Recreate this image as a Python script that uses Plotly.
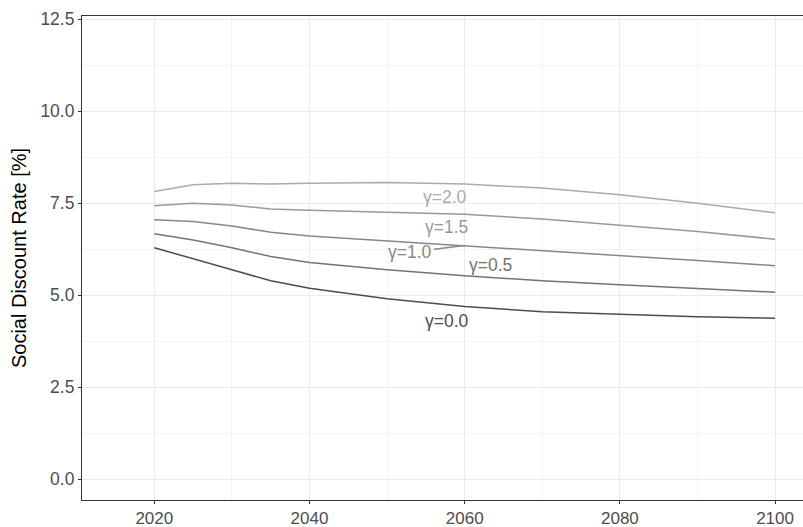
import plotly.graph_objects as go

# Social discount rate paths for different elasticities of marginal utility
years = [2020, 2025, 2030, 2035, 2040, 2050, 2060, 2070, 2080, 2090, 2100]

rate_g00 = [6.29, 5.98, 5.69, 5.39, 5.19, 4.90, 4.69, 4.55, 4.48, 4.41, 4.37]
rate_g05 = [6.67, 6.50, 6.29, 6.05, 5.89, 5.69, 5.53, 5.39, 5.28, 5.19, 5.08]
rate_g10 = [7.05, 7.00, 6.88, 6.71, 6.61, 6.48, 6.35, 6.20, 6.07, 5.94, 5.80]
rate_g15 = [7.43, 7.50, 7.45, 7.34, 7.31, 7.26, 7.20, 7.07, 6.91, 6.73, 6.52]
rate_g20 = [7.82, 8.00, 8.04, 8.02, 8.04, 8.06, 8.02, 7.91, 7.73, 7.50, 7.24]

series_names = ["γ=0.0", "γ=0.5", "γ=1.0", "γ=1.5", "γ=2.0"]
series_values = [rate_g00, rate_g05, rate_g10, rate_g15, rate_g20]
series_colors = ["#4D4D4D", "#747474", "#878787", "#999999", "#AAAAAA"]

# label anchors (year, rate) for the direct labels
label_x = [2057.7, 2063.3, 2053.0, 2057.7, 2057.5]
label_y = [4.31, 5.82, 6.17, 6.85, 7.68]

x_ticks = [2020, 2040, 2060, 2080, 2100]
y_ticks = [0.0, 2.5, 5.0, 7.5, 10.0, 12.5]

FONT = "Liberation Sans, Arial, sans-serif"

fig = go.Figure()
for name, vals, col in zip(series_names, series_values, series_colors):
    fig.add_trace(go.Scatter(
        x=years, y=vals, mode="lines", name=name,
        line=dict(color=col, width=1.5), showlegend=False, hoverinfo="skip",
    ))

for name, col, lx, ly in zip(series_names, series_colors, label_x, label_y):
    ann = dict(x=lx, y=ly, xref="x", yref="y", text=name, showarrow=False,
               font=dict(family=FONT, size=17.5, color=col))
    if name == "γ=1.0":
        # leader segment from the label to the curve at 2060
        idx = years.index(2060)
        ann.update(x=2060, y=rate_g10[idx], ax=lx, ay=ly, axref="x", ayref="y",
                   showarrow=True, arrowhead=0, arrowwidth=1.4, arrowcolor=col,
                   standoff=0)
    fig.add_annotation(**ann)

fig.update_layout(
    width=803, height=527,
    margin=dict(l=82, r=0, t=16, b=27),
    paper_bgcolor="white", plot_bgcolor="white",
    font=dict(family=FONT),
)
fig.update_xaxes(
    range=[2010.68, 2103.6], tickvals=x_ticks, ticktext=[str(v) for v in x_ticks],
    showgrid=True, gridcolor="#EBEBEB", gridwidth=1.1,
    minor=dict(dtick=10, tick0=2010, showgrid=True, gridcolor="#F3F3F3", gridwidth=0.6),
    showline=True, linecolor="#333333", linewidth=1.1, mirror=True,
    ticks="outside", ticklen=3, tickcolor="#333333", tickwidth=1,
    tickfont=dict(family=FONT, size=17, color="#4D4D4D"), zeroline=False,
    automargin=False,
)
fig.update_yaxes(
    range=[-0.571, 12.59], tickvals=y_ticks, ticktext=[f"{v:.1f}" for v in y_ticks],
    showgrid=True, gridcolor="#EBEBEB", gridwidth=1.1,
    minor=dict(dtick=1.25, tick0=0, showgrid=True, gridcolor="#F3F3F3", gridwidth=0.6),
    showline=True, linecolor="#333333", linewidth=1.1,
    ticks="outside", ticklen=3, tickcolor="#333333", tickwidth=1,
    tickfont=dict(family=FONT, size=17.5, color="#4D4D4D"), zeroline=False,
    automargin=False,
    title=dict(text="Social Discount Rate [%]", font=dict(family=FONT, size=20, color="black"),
               standoff=8),
)

fig.write_html("out.html")
